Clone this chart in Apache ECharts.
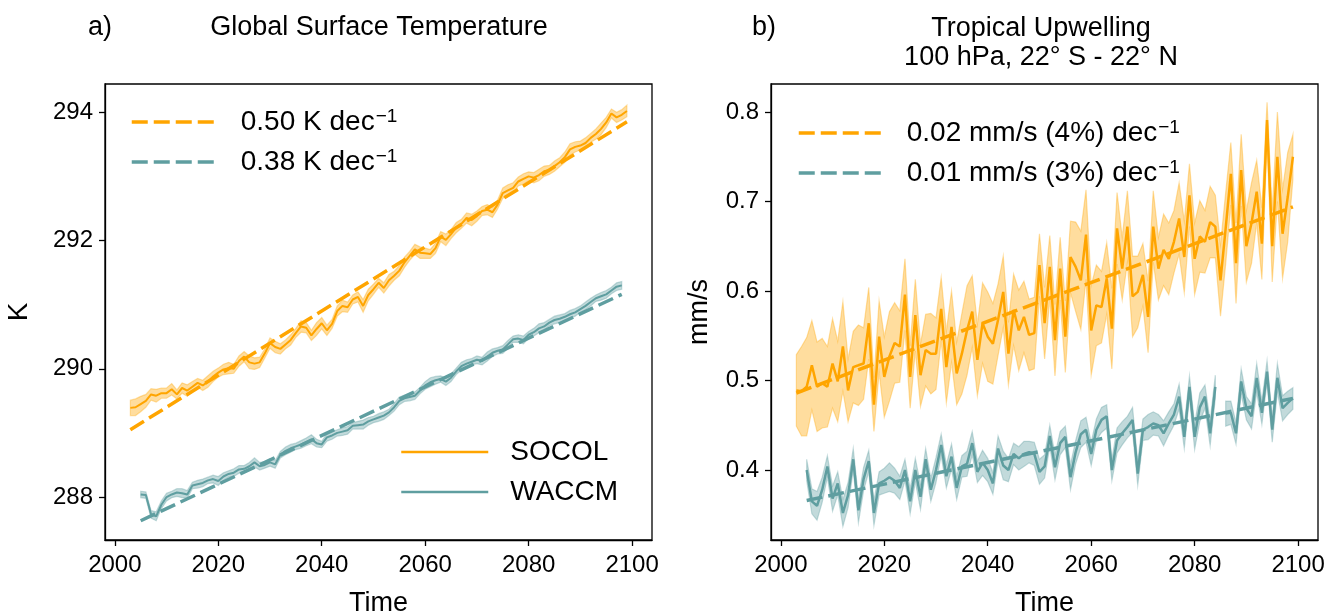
<!DOCTYPE html>
<html>
<head>
<meta charset="utf-8">
<script src="https://cdn.jsdelivr.net/npm/echarts@6.0.0/dist/echarts.min.js"></script>
<style>
  html, body { margin: 0; padding: 0; background: #fff; }
  #chart { width: 1328px; height: 611px; }
</style>
</head>
<body>
<div id="chart"></div>
<script>
// ---------------- DATA ----------------
const xTicks = [2000, 2020, 2040, 2060, 2080, 2100];
const tempTicks = [288, 290, 292, 294];
const wTicks = [0.4, 0.5, 0.6, 0.7, 0.8];

// Panel a) Global surface temperature (K)
const socolTStart = 2003;
const socolT = [
  289.39, 289.40, 289.45, 289.50, 289.60, 289.58, 289.62, 289.62, 289.68, 289.60,
  289.70, 289.66, 289.72, 289.78, 289.74, 289.80, 289.88, 289.94, 289.99, 290.01,
  290.00, 290.12, 290.19, 290.10, 290.08, 290.10, 290.24, 290.40, 290.34, 290.31,
  290.38, 290.45, 290.56, 290.66, 290.64, 290.52, 290.62, 290.71, 290.60, 290.70,
  290.90, 290.98, 290.96, 291.08, 291.12, 290.98, 291.15, 291.24, 291.34, 291.26,
  291.38, 291.45, 291.53, 291.66, 291.76, 291.86, 291.81, 291.80, 291.79, 291.88,
  292.06, 292.01, 292.10, 292.20, 292.26, 292.35, 292.32, 292.38, 292.46, 292.48,
  292.44, 292.56, 292.74, 292.78, 292.82, 292.92, 292.96, 293.00, 292.98, 293.02,
  293.08, 293.10, 293.16, 293.22, 293.30, 293.42, 293.46, 293.48, 293.52, 293.60,
  293.66, 293.74, 293.84, 293.98, 293.92, 293.96, 294.02
];
const socolTSpread = [
  0.12, 0.13, 0.12, 0.10, 0.09, 0.10, 0.08, 0.08, 0.09, 0.07,
  0.08, 0.09, 0.08, 0.07, 0.08, 0.09, 0.08, 0.07, 0.08, 0.09,
  0.07, 0.08, 0.08, 0.10, 0.09, 0.08, 0.07, 0.08, 0.09, 0.08,
  0.07, 0.08, 0.07, 0.09, 0.08, 0.08, 0.10, 0.09, 0.08, 0.07,
  0.08, 0.09, 0.08, 0.07, 0.08, 0.10, 0.09, 0.08, 0.07, 0.08,
  0.09, 0.07, 0.08, 0.08, 0.07, 0.08, 0.09, 0.08, 0.07, 0.08,
  0.08, 0.09, 0.07, 0.08, 0.07, 0.08, 0.09, 0.08, 0.07, 0.08,
  0.08, 0.07, 0.08, 0.09, 0.08, 0.07, 0.08, 0.07, 0.08, 0.09,
  0.08, 0.07, 0.08, 0.07, 0.08, 0.09, 0.08, 0.07, 0.08, 0.07,
  0.08, 0.09, 0.08, 0.07, 0.08, 0.08, 0.09
];
const waccmTStart = 2005;
const waccmT = [
  288.04, 288.03, 287.73, 287.70, 287.88, 288.00, 288.04, 288.07, 288.06, 288.04,
  288.18, 288.20, 288.22, 288.26, 288.28, 288.25, 288.32, 288.36, 288.38, 288.43,
  288.44, 288.48, 288.54, 288.48, 288.50, 288.54, 288.51, 288.66, 288.72, 288.76,
  288.79, 288.82, 288.86, 288.90, 288.84, 288.82, 288.93, 288.96, 289.00, 289.02,
  289.04, 289.11, 289.12, 289.13, 289.18, 289.21, 289.24, 289.27, 289.32, 289.40,
  289.50, 289.54, 289.56, 289.58, 289.66, 289.74, 289.79, 289.82, 289.84, 289.80,
  289.86, 289.96, 290.04, 290.08, 290.11, 290.14, 290.12, 290.19, 290.25, 290.28,
  290.30, 290.38, 290.46, 290.47, 290.45, 290.53, 290.57, 290.63, 290.66, 290.72,
  290.76, 290.78, 290.81, 290.85, 290.88, 290.93, 290.98, 291.04, 291.10, 291.13,
  291.16, 291.22, 291.28, 291.30
];
const waccmTSpread = [
  0.05, 0.05, 0.06, 0.07, 0.06, 0.06, 0.05, 0.06, 0.07, 0.06,
  0.05, 0.06, 0.06, 0.05, 0.06, 0.07, 0.06, 0.05, 0.06, 0.06,
  0.05, 0.06, 0.07, 0.06, 0.05, 0.06, 0.06, 0.05, 0.06, 0.06,
  0.05, 0.06, 0.06, 0.07, 0.06, 0.05, 0.06, 0.06, 0.05, 0.06,
  0.06, 0.05, 0.06, 0.07, 0.06, 0.05, 0.06, 0.06, 0.05, 0.06,
  0.06, 0.05, 0.06, 0.06, 0.05, 0.06, 0.07, 0.06, 0.05, 0.06,
  0.06, 0.05, 0.06, 0.06, 0.05, 0.06, 0.06, 0.07, 0.06, 0.05,
  0.06, 0.06, 0.05, 0.06, 0.06, 0.05, 0.06, 0.07, 0.06, 0.05,
  0.06, 0.06, 0.05, 0.06, 0.06, 0.05, 0.06, 0.06, 0.05, 0.06,
  0.06, 0.05, 0.06, 0.06
];
const trendTYearsSocol = [2003, 2099];
const trendTSocol = [289.05, 293.85];
const trendTYearsWaccm = [2005, 2098];
const trendTWaccm = [287.63, 291.16];

// Panel b) Tropical upwelling (mm/s)
const socolWStart = 2003;
const socolW = [
  0.489, 0.488, 0.493, 0.517, 0.493, 0.497, 0.493, 0.519, 0.499, 0.538,
  0.489, 0.515, 0.517, 0.519, 0.564, 0.473, 0.549, 0.504, 0.527, 0.542,
  0.538, 0.596, 0.504, 0.573, 0.506, 0.534, 0.530, 0.530, 0.580, 0.515,
  0.560, 0.508, 0.530, 0.556, 0.577, 0.523, 0.564, 0.549, 0.541, 0.568,
  0.599, 0.530, 0.579, 0.556, 0.571, 0.551, 0.553, 0.629, 0.564, 0.627,
  0.545, 0.625, 0.549, 0.638, 0.627, 0.612, 0.663, 0.556, 0.584, 0.582,
  0.614, 0.558, 0.670, 0.625, 0.672, 0.594, 0.599, 0.618, 0.571, 0.672,
  0.625, 0.646, 0.636, 0.655, 0.681, 0.638, 0.707, 0.636, 0.661, 0.655,
  0.677, 0.672, 0.612, 0.670, 0.731, 0.631, 0.735, 0.650, 0.676, 0.711,
  0.653, 0.791, 0.650, 0.750, 0.664, 0.705, 0.750
];
const socolWSpread = [
  0.040, 0.050, 0.055, 0.050, 0.050, 0.050, 0.045, 0.050, 0.045, 0.050,
  0.035, 0.040, 0.045, 0.040, 0.040, 0.030, 0.040, 0.045, 0.050, 0.045,
  0.040, 0.040, 0.035, 0.040, 0.035, 0.040, 0.045, 0.040, 0.035, 0.040,
  0.040, 0.035, 0.045, 0.050, 0.040, 0.040, 0.045, 0.050, 0.045, 0.040,
  0.040, 0.035, 0.040, 0.045, 0.040, 0.040, 0.040, 0.035, 0.040, 0.035,
  0.040, 0.035, 0.040, 0.040, 0.050, 0.055, 0.050, 0.050, 0.045, 0.040,
  0.040, 0.045, 0.040, 0.035, 0.040, 0.045, 0.040, 0.035, 0.040, 0.040,
  0.035, 0.040, 0.040, 0.035, 0.040, 0.040, 0.035, 0.040, 0.040, 0.035,
  0.040, 0.035, 0.040, 0.040, 0.035, 0.045, 0.040, 0.040, 0.045, 0.035,
  0.040, 0.020, 0.040, 0.050, 0.050, 0.050, 0.025
];
const waccmWStart = 2005;
const waccmW = [
  0.400, 0.365, 0.360, 0.378, 0.404, 0.368, 0.385, 0.352, 0.372, 0.412,
  0.355, 0.390, 0.410, 0.352, 0.385, 0.388, 0.392, 0.388, 0.380, 0.400,
  0.365, 0.400, 0.370, 0.412, 0.378, 0.400, 0.428, 0.393, 0.415, 0.380,
  0.404, 0.407, 0.430, 0.398, 0.408, 0.400, 0.385, 0.424, 0.405, 0.400,
  0.418, 0.413, 0.418, 0.420, 0.418, 0.398, 0.404, 0.438, 0.403, 0.430,
  0.437, 0.392, 0.420, 0.440, 0.445, 0.418, 0.445, 0.456, 0.460, 0.400,
  0.433, 0.441, 0.448, 0.456, 0.396, 0.445, 0.448, 0.452, 0.450, 0.441,
  0.452, 0.462, 0.482, 0.437, 0.493, 0.437, 0.470, 0.482, 0.441, 0.493,
  null,  0.463, 0.464, 0.441, 0.499, 0.469, 0.460, 0.503, 0.464, 0.510,
  0.445, 0.503, 0.469, 0.475, 0.480
];
const waccmWSpread = [
  0.012, 0.014, 0.016, 0.014, 0.012, 0.014, 0.013, 0.015, 0.014, 0.012,
  0.014, 0.013, 0.012, 0.014, 0.013, 0.014, 0.016, 0.014, 0.013, 0.012,
  0.014, 0.013, 0.014, 0.012, 0.013, 0.014, 0.012, 0.013, 0.014, 0.013,
  0.012, 0.014, 0.013, 0.012, 0.014, 0.013, 0.012, 0.014, 0.016, 0.013,
  0.012, 0.013, 0.014, 0.012, 0.013, 0.014, 0.013, 0.012, 0.014, 0.013,
  0.012, 0.014, 0.013, 0.015, 0.014, 0.013, 0.012, 0.014, 0.013, 0.012,
  0.014, 0.013, 0.012, 0.014, 0.013, 0.012, 0.014, 0.013, 0.012, 0.014,
  0.013, 0.012, 0.014, 0.013, 0.012, 0.014, 0.016, 0.013, 0.014, 0.013,
  0.013, 0.014, 0.013, 0.012, 0.014, 0.013, 0.014, 0.016, 0.013, 0.012,
  0.014, 0.016, 0.014, 0.013, 0.012
];
const trendWYearsSocol = [2003, 2099];
const trendWSocol = [0.486, 0.694];
const trendWYearsWaccm = [2005, 2099];
const trendWWaccm = [0.366, 0.480];

// ---------------- CHART ----------------
const ORANGE = '#FFA500';
const TEAL = '#5F9EA0';
const FONT = 'Liberation Sans';
const DASH = [16, 6];

function yearsFrom(start, n) { const a = []; for (let i = 0; i < n; i++) a.push(start + i); return a; }
function pairs(xs, ys) { return xs.map((x, i) => [x, ys[i]]); }

function bandSeries(name, axisIdx, start, mean, spread, rgb) {
  const years = yearsFrom(start, mean.length);
  return {
    type: 'custom', name: name, xAxisIndex: axisIdx, yAxisIndex: axisIdx,
    silent: true, z: 1, clip: true,
    data: years.map((y, i) => [y, mean[i]]),
    encode: { x: 0, y: 1 },
    renderItem: function (params, api) {
      if (params.dataIndex !== 0) return null;
      const children = [];
      let up = [], lo = [];
      const flush = () => {
        if (up.length > 1) {
          children.push({
            type: 'polygon',
            shape: { points: up.concat(lo.slice().reverse()) },
            style: { fill: 'rgba(' + rgb + ',0.38)', stroke: 'rgba(' + rgb + ',0.35)', lineWidth: 1.2 }
          });
        }
        up = []; lo = [];
      };
      for (let i = 0; i < years.length; i++) {
        if (mean[i] == null) { flush(); continue; }
        up.push(api.coord([years[i], mean[i] + spread[i]]));
        lo.push(api.coord([years[i], mean[i] - spread[i]]));
      }
      flush();
      return { type: 'group', children: children };
    }
  };
}

function meanSeries(name, axisIdx, start, mean, color, width) {
  return {
    type: 'line', name: name, xAxisIndex: axisIdx, yAxisIndex: axisIdx,
    data: pairs(yearsFrom(start, mean.length), mean),
    symbol: 'none', showSymbol: false, connectNulls: false, z: 3,
    lineStyle: { color: color, width: width }, itemStyle: { color: color }
  };
}

function trendSeries(name, axisIdx, xs, ys, color) {
  return {
    type: 'line', name: name, xAxisIndex: axisIdx, yAxisIndex: axisIdx,
    data: pairs(xs, ys), symbol: 'none', showSymbol: false, z: 4,
    lineStyle: { color: color, width: 3.5, type: DASH }, itemStyle: { color: color }
  };
}

const axisCommonX = (idx) => ({
  type: 'value', gridIndex: idx, min: 1998.1, max: 2103.85,
  name: 'Time', nameLocation: 'middle', nameGap: 50,
  nameTextStyle: { fontFamily: FONT, fontSize: 27, color: '#000' },
  axisLine: { show: true, onZero: false, lineStyle: { color: '#000', width: 1.3 } },
  axisTick: { show: true, length: 6, customValues: xTicks, lineStyle: { color: '#000', width: 1.3 } },
  axisLabel: { customValues: xTicks, margin: 13, fontFamily: FONT, fontSize: 24, color: '#000', formatter: v => String(v) },
  splitLine: { show: false }
});

const legendText = (gap) => ({
  fontFamily: FONT, fontSize: 28, color: '#000', lineHeight: 30,
  rich: {
    gap: { width: gap, fontSize: 28, lineHeight: 30 },
    sup: { fontSize: 19, verticalAlign: 'top', lineHeight: 26, padding: [0, 0, 6, 1] }
  }
});
const legendFmt = n => '{gap|}' + (n.endsWith(' dec') ? n + '{sup|−1}' : n);
const hiddenSymbol = { color: 'rgba(0,0,0,0)', borderColor: 'rgba(0,0,0,0)', borderWidth: 0, opacity: 0 };

const gridCommon = { show: true, borderColor: '#000', borderWidth: 1.3, backgroundColor: 'transparent', containLabel: false, outerBoundsMode: 'none' };

const option = {
  animation: false,
  backgroundColor: '#fff',
  title: [
    { text: 'a)', left: 88, top: 14, padding: 0, textStyle: { fontFamily: FONT, fontSize: 27, fontWeight: 'normal', color: '#000' } },
    { text: 'Global Surface Temperature', left: 379, top: 14, padding: 0, textAlign: 'center', textStyle: { fontFamily: FONT, fontSize: 27, fontWeight: 'normal', color: '#000' } },
    { text: 'b)', left: 752, top: 14, padding: 0, textStyle: { fontFamily: FONT, fontSize: 27, fontWeight: 'normal', color: '#000' } },
    { text: 'Tropical Upwelling\n100 hPa, 22° S - 22° N', left: 1041, top: 14, padding: 0, textAlign: 'center', textStyle: { fontFamily: FONT, fontSize: 27, fontWeight: 'normal', color: '#000', lineHeight: 29, align: 'center' } }
  ],
  grid: [
    Object.assign({ left: 105, top: 84, width: 547, height: 456 }, gridCommon),
    Object.assign({ left: 771, top: 84, width: 547, height: 456 }, gridCommon)
  ],
  xAxis: [axisCommonX(0), axisCommonX(1)],
  yAxis: [
    {
      type: 'value', gridIndex: 0, min: 287.33, max: 294.44,
      name: 'K', nameLocation: 'middle', nameGap: 72,
      nameTextStyle: { fontFamily: FONT, fontSize: 28, color: '#000' },
      axisLine: { show: true, lineStyle: { color: '#000', width: 1.3 } },
      axisTick: { show: true, length: 6, customValues: tempTicks, lineStyle: { color: '#000', width: 1.3 } },
      axisLabel: { customValues: tempTicks, margin: 12, fontFamily: FONT, fontSize: 24, color: '#000', formatter: v => String(v) },
      splitLine: { show: false }
    },
    {
      type: 'value', gridIndex: 1, min: 0.3218, max: 0.8313,
      name: 'mm/s', nameLocation: 'middle', nameGap: 58,
      nameTextStyle: { fontFamily: FONT, fontSize: 27, color: '#000' },
      axisLine: { show: true, lineStyle: { color: '#000', width: 1.3 } },
      axisTick: { show: true, length: 6, customValues: wTicks, lineStyle: { color: '#000', width: 1.3 } },
      axisLabel: { customValues: wTicks, margin: 12, fontFamily: FONT, fontSize: 24, color: '#000', formatter: v => v.toFixed(1) },
      splitLine: { show: false }
    }
  ],
  legend: [
    {
      data: ['0.50 K dec', '0.38 K dec'], orient: 'vertical', left: 130, top: 107, padding: 0,
      itemWidth: 86, itemHeight: 14, itemGap: 10, selectedMode: false,
      itemStyle: hiddenSymbol, lineStyle: { width: 3.5, type: DASH },
      textStyle: legendText(18), formatter: legendFmt
    },
    {
      data: ['SOCOL', 'WACCM'], orient: 'vertical', left: 400, top: 437, padding: 0,
      itemWidth: 87, itemHeight: 14, itemGap: 10, selectedMode: false,
      itemStyle: hiddenSymbol, lineStyle: { width: 2.5 },
      textStyle: legendText(17), formatter: legendFmt
    },
    {
      data: ['0.02 mm/s (4%) dec', '0.01 mm/s (3%) dec'], orient: 'vertical', left: 797, top: 118, padding: 0,
      itemWidth: 85, itemHeight: 14, itemGap: 10, selectedMode: false,
      itemStyle: hiddenSymbol, lineStyle: { width: 3.5, type: DASH },
      textStyle: legendText(18), formatter: legendFmt
    }
  ],
  series: [
    bandSeries('SOCOL band a', 0, socolTStart, socolT, socolTSpread, '255,165,0'),
    bandSeries('WACCM band a', 0, waccmTStart, waccmT, waccmTSpread, '95,158,160'),
    meanSeries('SOCOL', 0, socolTStart, socolT, ORANGE, 2),
    meanSeries('WACCM', 0, waccmTStart, waccmT, TEAL, 2),
    trendSeries('0.50 K dec', 0, trendTYearsSocol, trendTSocol, ORANGE),
    trendSeries('0.38 K dec', 0, trendTYearsWaccm, trendTWaccm, TEAL),

    bandSeries('SOCOL band b', 1, socolWStart, socolW, socolWSpread, '255,165,0'),
    bandSeries('WACCM band b', 1, waccmWStart, waccmW, waccmWSpread, '95,158,160'),
    meanSeries('SOCOL (b)', 1, socolWStart, socolW, ORANGE, 2.5),
    meanSeries('WACCM (b)', 1, waccmWStart, waccmW, TEAL, 2.5),
    trendSeries('0.02 mm/s (4%) dec', 1, trendWYearsSocol, trendWSocol, ORANGE),
    trendSeries('0.01 mm/s (3%) dec', 1, trendWYearsWaccm, trendWWaccm, TEAL)
  ]
};

const chart = echarts.init(document.getElementById('chart'), null, { renderer: 'canvas' });
chart.setOption(option);
</script>
</body>
</html>
